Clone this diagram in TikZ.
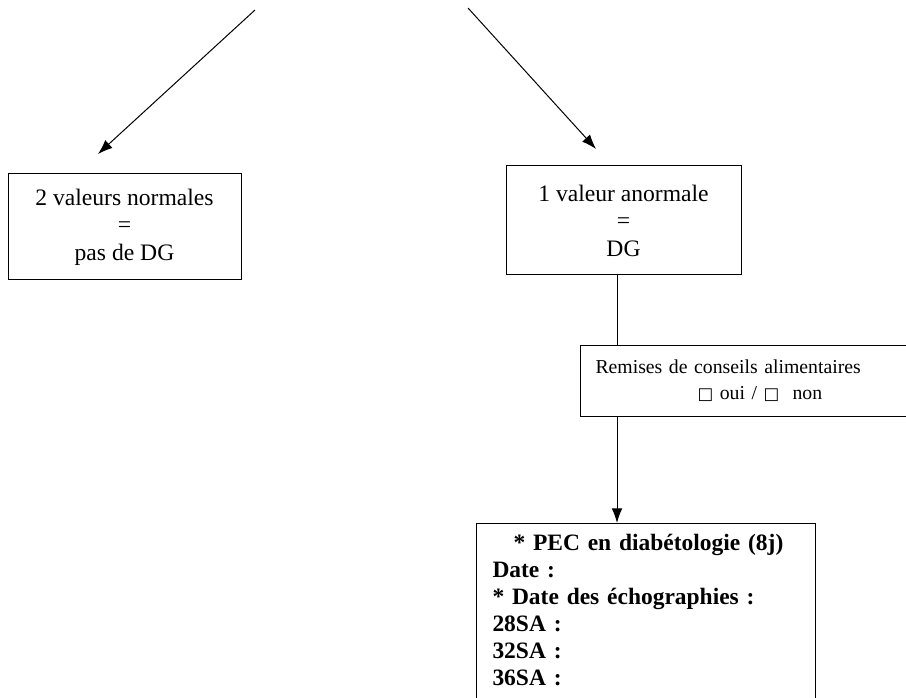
\documentclass[tikz,border=0pt]{standalone}
\usepackage{fontspec}
\setmainfont{Liberation Serif}
\newfontfamily\symfont{DejaVu Sans}
\usepackage{xcolor}
\usetikzlibrary{arrows.meta}

\newcommand{\casecoche}{{\symfont\fontsize{12.5}{12.5}\selectfont □}}

\begin{document}
\begin{tikzpicture}[x=0.75pt,y=0.75pt,yscale=-1,xscale=1,
  boite/.style={draw,line width=0.75,rectangle,inner sep=0pt},
  fleche/.style={line width=0.75,-{Latex[length=11pt,width=8pt]}},
  trait/.style={line width=0.75}]
\useasboundingbox (0,0) rectangle (906,698);
\clip (0,0) rectangle (906,698);

% Text Node
\node [boite,minimum width=174.75pt,minimum height=79.5pt,align=center,font=\fontsize{17.7}{20.6}\selectfont] (normales) at (124.5,227) {2 valeurs normales\\=\\pas de DG};
% Text Node
\node [boite,minimum width=176.25pt,minimum height=81.75pt,align=center,font=\fontsize{17.7}{20.6}\selectfont] (anormale) at (623.5,220.5) {1 valeur anormale\\=\\DG};
% Text Node
\node [boite,anchor=north west,minimum width=262.5pt,minimum height=53.25pt,inner xsep=11.25pt,text width=240pt,align=left,font=\fontsize{14.8}{19.5}\selectfont] (remises) at (580,345) {Remises de conseils alimentaires\\\hspace*{76.5pt}\casecoche{} oui / \casecoche{}\ \ non};
% Text Node
\node [boite,anchor=north west,inner xsep=12pt,inner ysep=8pt,text width=230.25pt,align=left,font=\bfseries\fontsize{17.6}{20.3}\selectfont] (pec) at (476,523) {\hspace*{15.75pt}{*} PEC en diabétologie (8j)\\Date :\\{*} Date des échographies :\\28SA :\\32SA :\\36SA :\strut};

\coordinate (depG) at (255,10);
\coordinate (finG) at (98,154);
\coordinate (depD) at (468,8);
\coordinate (finD) at (596,149);
\coordinate (axe) at (617,0);

%Straight Lines
\draw [fleche] (depG) -- (finG);
%Straight Lines
\draw [fleche] (depD) -- (finD);
%Straight Lines
\draw [trait] (anormale.south -| axe) -- (remises.north -| axe);
%Straight Lines
\draw [fleche] (remises.south -| axe) -- (pec.north -| axe);

\end{tikzpicture}
\end{document}
